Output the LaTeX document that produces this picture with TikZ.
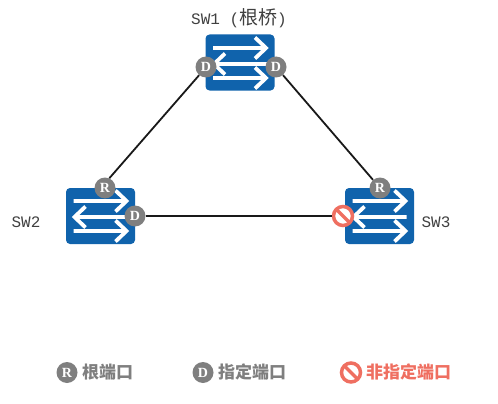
\documentclass[tikz,border=0pt]{standalone}
\usepackage{fontspec}
\setmainfont{Liberation Serif}
\setmonofont{Liberation Mono}
\newfontfamily\cjk{Noto Sans CJK SC}
\usetikzlibrary{shapes.symbols}
\definecolor{swblue}{HTML}{1063AC}
\definecolor{portgray}{HTML}{7F7F7F}
\definecolor{blockred}{HTML}{EF6F61}
\tikzset{swbox/.style={draw=none, fill=swblue, rounded corners=4pt, minimum width=69pt, minimum height=56pt, inner sep=0pt},
  flow/.pic={
    \draw[white, line width=3.8pt, line join=miter] (-27,-14.5) -- (25,-14.5) (15,-25) -- (26,-14.5) -- (15,-4);
    \draw[white, line width=3.8pt, line join=miter] (27,1.5) -- (-25,1.5) (-15,-9) -- (-26,1.5) -- (-15,12);
    \draw[white, line width=3.8pt, line join=miter] (-27,15.5) -- (25,15.5) (15,5) -- (26,15.5) -- (15,26);
  },
  port/.style={circle, fill=portgray, text=white, minimum size=21pt, inner sep=0pt, font=\bfseries\fontsize{14}{14}\selectfont},
  stopsign/.style={forbidden sign, rotate=90, draw=blockred, line width=3.5pt, fill=white, minimum size=#1, inner sep=0pt},
  swname/.style={font=\ttfamily\fontsize{16}{16}\selectfont, text=black!75},
  legend/.style={font=\cjk\bfseries\fontsize{17}{17}\selectfont, anchor=west, inner sep=0pt}}

\begin{document}
\begin{tikzpicture}[x=1pt, y=-1pt]
  \useasboundingbox (0,0) rectangle (498,404);
  % switches
  \node[swbox] (sw1) at (240,62.5) {};
  \node[swbox] (sw2) at (100.5,216) {};
  \node[swbox] (sw3) at (379.5,216) {};
  \pic at (240,62.5) {flow};
  \pic at (100.5,215.5) {flow};
  \pic at (379.5,215.5) {flow};
  \node[swname] (name1) at (239,18) {SW1 ({\cjk\fontsize{19}{19}\selectfont 根桥})};
  \node[swname] (name2) at (26,222) {SW2};
  \node[swname] (name3) at (436,222) {SW3};
  % ports
  \node[port] (d1l) at (206,67) {D};
  \node[port] (d1r) at (276,67) {D};
  \node[port] (r2) at (105,188) {R};
  \node[port] (d2) at (135,216) {D};
  \node[port] (r3) at (380,188) {R};
  \node[stopsign=19pt] (block3) at (343,216) {};
  % links
  \draw[line width=1.8pt, black!90] (d1l.230) -- (r2.66);
  \draw[line width=1.8pt, black!90] (d1r) -- (r3);
  \draw[line width=1.8pt, black!90] (d2) -- (block3);
  % legend
  \node[port] (keyr) at (67,372.5) {R};
  \node[legend, text=portgray] (textr) at (82,372) {根端口};
  \node[port] (keyd) at (203,372.5) {D};
  \node[legend, text=portgray] (textd) at (218,372) {指定端口};
  \node[stopsign=19pt] (keyb) at (351,372.5) {};
  \node[legend, text=blockred] (textb) at (366,372) {非指定端口};
\end{tikzpicture}
\end{document}
